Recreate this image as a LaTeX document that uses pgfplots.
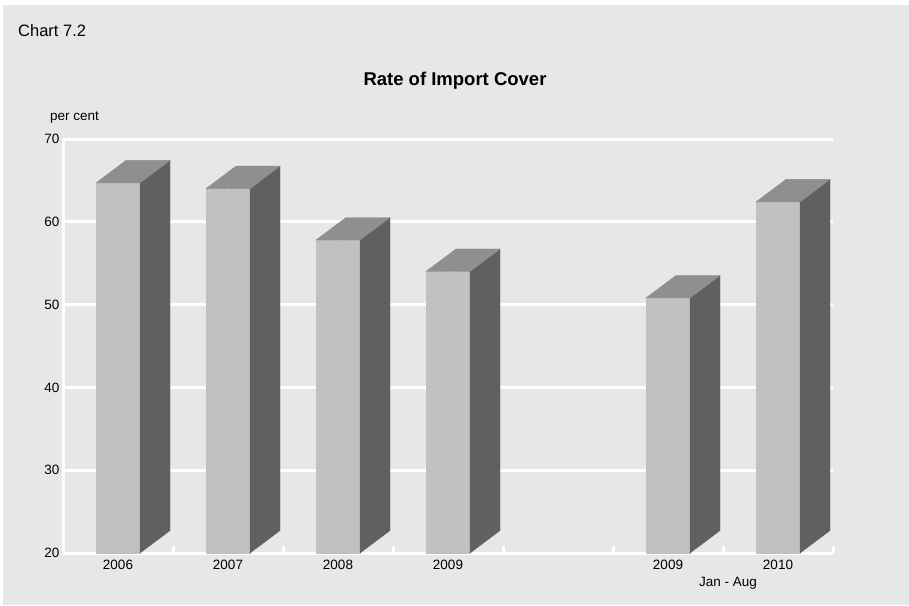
\documentclass[border=0pt]{standalone}
\usepackage{pgfplots}
\pgfplotsset{compat=1.18}
\usepackage{fontspec}
\setmainfont{Liberation Sans}
\definecolor{bg}{HTML}{E6E7E9}
\definecolor{frontc}{HTML}{C1C1C1}
\definecolor{sidec}{HTML}{606060}
\definecolor{topc}{HTML}{8F8F8F}
\begin{document}
\begin{tikzpicture}
\fill[white] (0pt,0pt) rectangle (909pt,605pt);
\fill[bg] (3pt,0pt) rectangle (909pt,600pt);
\begin{axis}[
  at={(63pt,52pt)}, anchor=south west,
  scale only axis, width=770pt, height=414pt,
  xmin=-0.5, xmax=6.5, ymin=20, ymax=70,
  clip=false,
  axis lines*=left,
  axis line style={white, line width=3pt},
  ytick={20,30,...,70},
  ymajorgrids,
  major grid style={white, line width=3pt},
  xtick={0,1,2,3,5,6},
  xticklabels={2006,2007,2008,2009,2009,2010},
  minor xtick={-0.5,0.5,...,6.5},
  major tick length=0pt, minor tick length=7pt,
  tick align=inside,
  minor tick style={white, line width=3pt},
  tick label style={font=\fontsize{13.5}{15}\selectfont, text=black},
  xticklabel style={yshift=-4pt},
  /pgf/number format/assume math mode=true,
  point meta min=20, point meta max=70,
]
\addplot[only marks, mark=square*, mark size=0.1pt,
  mark options={draw=frontc, fill=frontc},
  scatter, point meta=y,
  scatter/@pre marker code/.code={%
    \pgfmathsetmacro\h{\pgfplotspointmetatransformed*0.414}%
    \pgfmathsetmacro\hb{22.5-\h}%
    \fill[frontc] (-22pt,-\h pt) rectangle (22pt,0pt);
    \fill[sidec] (22pt,0pt) -- (52pt,22.5pt) -- (52pt,\hb pt) -- (22pt,-\h pt) -- cycle;
    \fill[topc] (-22pt,0pt) -- (22pt,0pt) -- (52pt,22.5pt) -- (8pt,22.5pt) -- cycle;
  },
  scatter/@post marker code/.code={},
] coordinates {
  (0,64.7) (1,64.0) (2,57.8) (3,54.0) (5,50.8) (6,62.4)
};
\end{axis}
\node[anchor=west, inner sep=0pt, font=\fontsize{16.5}{18}\selectfont] at (18pt,574pt) {Chart 7.2};
\node[font=\bfseries\fontsize{18.5}{20}\selectfont] at (455pt,524pt) {Rate of Import Cover};
\node[anchor=west, inner sep=0pt, font=\fontsize{13.5}{15}\selectfont] at (50pt,487pt) {per cent};
\node[font=\fontsize{13.5}{15}\selectfont] at (728pt,22pt) {Jan - Aug};
\end{tikzpicture}
\end{document}
